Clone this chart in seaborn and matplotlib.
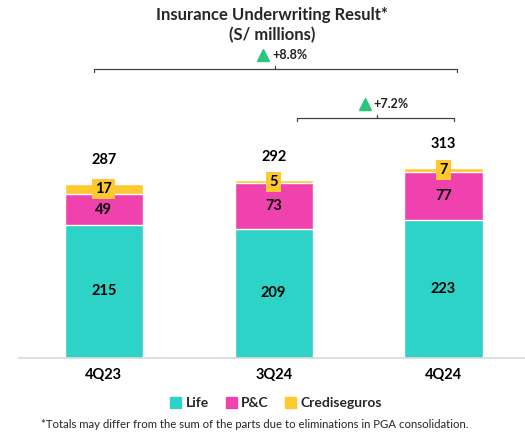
import matplotlib
matplotlib.use("Agg")
import matplotlib.pyplot as plt
import seaborn as sns
import pandas as pd
from matplotlib.patches import Patch

quarters = ["4Q23", "3Q24", "4Q24"]
life = [215, 209, 223]
pc = [49, 73, 77]
crediseguros = [17, 5, 7]
totals = [287, 292, 313]
growth_labels = ["+8.8%", "+7.2%"]

c_life = "#2dd3c7"
c_pc = "#ef42ae"
c_cred = "#fec92f"
c_up = "#2bc57c"

sns.set_theme(style="white")
plt.rcParams["font.family"] = ["Lato", "DejaVu Sans"]

df = pd.DataFrame({"quarter": quarters, "life": life, "pc": pc, "cred": crediseguros})
df["life_pc"] = df["life"] + df["pc"]
df["all"] = df["life_pc"] + df["cred"]

fig = plt.figure(figsize=(5.25, 4.34), dpi=100)
ax = fig.add_axes([0.036, 0.175, 0.964, 0.728])

# stacked bars drawn back to front
sns.barplot(data=df, x="quarter", y="all", color=c_cred, width=0.46, ax=ax, saturation=1)
sns.barplot(data=df, x="quarter", y="life_pc", color=c_pc, width=0.46, ax=ax, saturation=1)
sns.barplot(data=df, x="quarter", y="life", color=c_life, width=0.46, ax=ax, saturation=1)

ax.set_xlim(-0.5, 2.48)
ax.set_ylim(0, 510)
ax.set_xlabel("")
ax.set_ylabel("")
ax.set_yticks([])
sns.despine(ax=ax, left=True)
ax.spines["bottom"].set_color("#d9d9d9")
ax.tick_params(axis="x", length=0, pad=7)
ax.set_xticks(range(len(quarters)))
ax.set_xticklabels(quarters)
for t in ax.get_xticklabels():
    t.set_fontweight("bold")
    t.set_fontsize(10.5)
    t.set_color("black")

# segment labels
for i in range(len(quarters)):
    ax.text(i, life[i] / 2, str(life[i]), ha="center", va="center",
            fontsize=10.5, fontweight="bold", color="black")
    ax.text(i, life[i] + pc[i] / 2, str(pc[i]), ha="center", va="center",
            fontsize=10.5, fontweight="bold", color="black")
    ax.text(i, life[i] + pc[i] + crediseguros[i] / 2, str(crediseguros[i]),
            ha="center", va="center", fontsize=10.5, fontweight="bold", color="black",
            bbox=dict(boxstyle="square,pad=0.2", fc=c_cred, ec="none"))
    ax.annotate(str(totals[i]), (i, df["all"][i]), xytext=(0, 17),
                textcoords="offset points", ha="center", va="center",
                fontsize=10.5, fontweight="bold", color="black")

# growth brackets
def bracket(x0, x1, xm, y, label):
    ax.plot([x0, x0, x1, x1], [y - 5, y, y, y - 5], color="#404040", lw=0.9, clip_on=False)
    ax.plot([xm, xm], [y, y + 5], color="#404040", lw=0.9, clip_on=False)
    ax.plot([xm - 0.075], [y + 22], marker="^", color=c_up, markersize=8, clip_on=False)
    ax.text(xm - 0.02, y + 22, label, ha="left", va="center", fontsize=9,
            fontweight="bold", color="#222222")

bracket(-0.06, 2.08, 1.01, 467, growth_labels[0])
bracket(1.14, 2.06, 1.61, 388, growth_labels[1])

fig.text(0.518, 0.965, "Insurance Underwriting Result*", ha="center", va="center",
         fontsize=12, fontweight="bold")
fig.text(0.518, 0.919, "(S/ millions)", ha="center", va="center",
         fontsize=12, fontweight="bold")

handles = [Patch(color=c_life, label="Life"), Patch(color=c_pc, label="P&C"),
           Patch(color=c_cred, label="Crediseguros")]
fig.legend(handles=handles, loc="center", bbox_to_anchor=(0.526, 0.071), ncol=3,
           frameon=False, handlelength=0.8, handleheight=0.8, handletextpad=0.3,
           columnspacing=1.2, prop={"weight": "bold", "size": 10})

fig.text(0.485, 0.022, "*Totals may differ from the sum of the parts due to eliminations in PGA consolidation.",
         ha="center", va="center", fontsize=8.2)

fig.savefig("out.png", dpi=100)
